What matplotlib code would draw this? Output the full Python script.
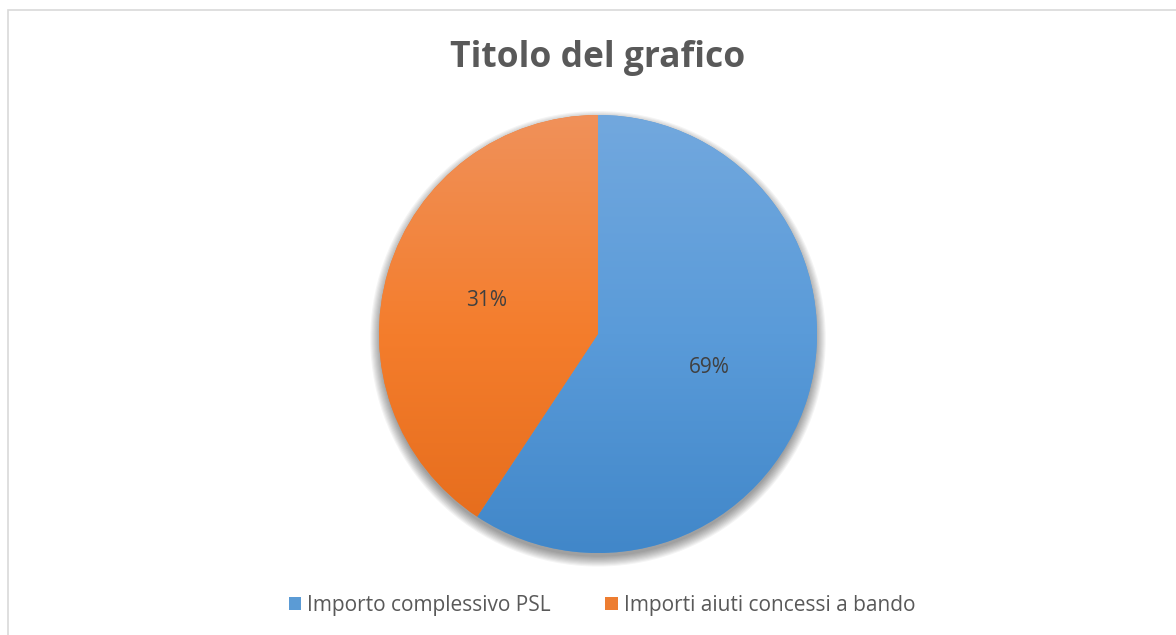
import numpy as np
import matplotlib
matplotlib.use("Agg")
import matplotlib.pyplot as plt
from matplotlib.colors import LinearSegmentedColormap
from matplotlib.patches import Rectangle, Circle, Patch

# ── Dati ─────────────────────────────────────────────────────────────────────
categories = ["Importo complessivo PSL", "Importi aiuti concessi a bando"]
values     = [59.3, 40.7]          # ampiezza degli spicchi
pct_labels = ["69%", "31%"]        # etichette come mostrate nel grafico

# ── Stile ────────────────────────────────────────────────────────────────────
plt.rcParams["font.family"] = ["Open Sans", "DejaVu Sans"]
grad_colors = [("#72A8DE", "#5A9BD9", "#4187C9"),
               ("#F0915A", "#F47D2C", "#E46B1B")]
mid_colors  = ["#5B9BD5", "#ED7D31"]

W, H = 1176, 635
fig = plt.figure(figsize=(W / 100, H / 100), dpi=100)

# cornice del grafico
fig.patches.append(Rectangle((8 / W, -0.05), 1.1, 1 - 10 / H + 0.05,
                             transform=fig.transFigure, fill=False,
                             edgecolor="#D9D9D9", linewidth=1.2))

# ── Torta ────────────────────────────────────────────────────────────────────
cx, cy, r = 598, 334, 219
pad = 1.12
ax = fig.add_axes([(cx - r * pad) / W, (H - cy - r * pad) / H,
                   2 * r * pad / W, 2 * r * pad / H])

# ombra
for k in range(10):
    ax.add_patch(Circle((0, -0.022), 0.995 + 0.005 * k, color="black",
                        alpha=0.045, linewidth=0, zorder=0))

wedges, texts, autotexts = ax.pie(
    values, startangle=90, counterclock=False, colors=mid_colors,
    autopct="%1.0f%%", pctdistance=0.53,
    wedgeprops=dict(linewidth=0), textprops=dict(color="#404040", fontsize=15))

grad = np.linspace(1, 0, 256).reshape(-1, 1)
for w, (top, mid, bot) in zip(wedges, grad_colors):
    cmap = LinearSegmentedColormap.from_list("g", [bot, mid, top])
    im = ax.imshow(grad, cmap=cmap, extent=(-1, 1, -1, 1), aspect="auto",
                   zorder=2, interpolation="bilinear")
    im.set_clip_path(w)

for t, lab in zip(autotexts, pct_labels):
    t.set_text(lab)
    t.set_zorder(3)

ax.set_xlim(-pad, pad)
ax.set_ylim(-pad, pad)
ax.axis("off")

# ── Titolo e legenda ─────────────────────────────────────────────────────────
fig.text(cx / W, 1 - 58 / H, "Titolo del grafico", ha="center", va="center",
         fontsize=25.5, fontweight="bold", color="#595959")

handles = [Patch(facecolor=c, edgecolor="none") for c in mid_colors]
fig.legend(handles, categories, loc="center", bbox_to_anchor=(602 / W, 1 - 605 / H),
           ncol=2, frameon=False, fontsize=15, labelcolor="#595959",
           handlelength=0.6, handleheight=0.6, handletextpad=0.3,
           columnspacing=2.6)

fig.savefig("out.png", dpi=100)
